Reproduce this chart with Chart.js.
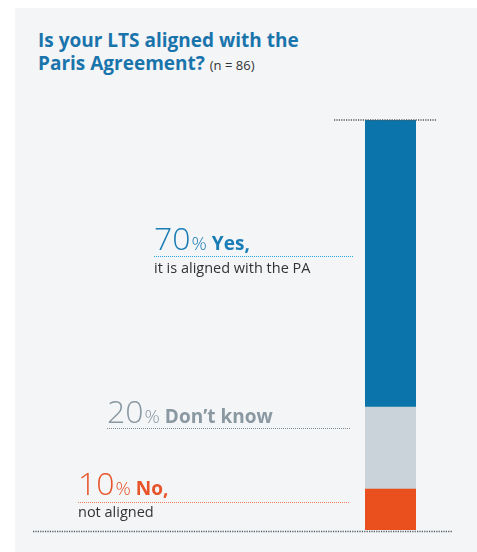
<!DOCTYPE html>
<html>
<head>
<meta charset="utf-8">
<script src="https://cdn.jsdelivr.net/npm/chart.js@4"></script>
<style>
  body { margin: 0; background: #fff; width: 477px; height: 552px; overflow: hidden; position: relative; }
  #panel { position: absolute; left: 15px; top: 8px; right: 0; bottom: 0; background: #f4f5f7; }
  #title { position: absolute; left: 38px; top: 29px; font-family: "Open Sans", sans-serif; font-weight: 700;
           font-size: 19px; line-height: 23px; color: #1a74ac; }
  #title small { font-weight: 400; font-size: 13px; color: #333; }
  #lts_chart { position: absolute; left: 0; top: 0; }
</style>
</head>
<body>
<div id="panel"></div>
<div id="title">Is your LTS aligned with the<br>Paris Agreement? <small>(n = 86)</small></div>
<canvas id="lts_chart" width="477" height="552"></canvas>
<script>
// stacked from the bottom up
const categories = ['LTS aligned with the Paris Agreement'];
const answers = ['No,', 'Don\u2019t know', 'Yes,'];
const answerNotes = ['not aligned', '', 'it is aligned with the PA'];
const shares = [10, 20, 70];

const barColours = ['#e9501e', '#c9d3d9', '#0b74ab'];
const textColours = ['#e8542a', '#8a98a2', '#1a7db5'];
const lineColours = ['#f07a5a', '#7f8c95', '#2aa6df'];
// where each answer's label sits (x, text baseline, underline y, underline end, note baseline)
const labelSpots = [
  {x: 78, base: 495, line: 502, end: 350, note: 517},
  {x: 107, base: 423, line: 428, end: 351, note: 0},
  {x: 154, base: 250, line: 256, end: 353, note: 273}
];

const labelPlugin = {
  id: 'labelPlugin',
  afterDraw(chart) {
    const ctx = chart.ctx;
    const y = chart.scales.y;
    ctx.save();

    // dotted lines at top (100%) and bottom (0%)
    ctx.setLineDash([1.2, 1.2]);
    ctx.lineWidth = 1.6;
    ctx.strokeStyle = '#4d5860';
    ctx.beginPath();
    ctx.moveTo(334, y.getPixelForValue(100));
    ctx.lineTo(436, y.getPixelForValue(100));
    ctx.moveTo(33, y.getPixelForValue(0) + 1.5);
    ctx.lineTo(452, y.getPixelForValue(0) + 1.5);
    ctx.stroke();

    answers.forEach((answer, i) => {
      const spot = labelSpots[i];
      let x = spot.x;
      ctx.textBaseline = 'alphabetic';
      ctx.fillStyle = textColours[i];
      ctx.font = '300 32px "Open Sans"';
      ctx.fillText(String(shares[i]), x, spot.base);
      x += ctx.measureText(String(shares[i])).width + 1;
      ctx.font = '300 19px "Open Sans"';
      ctx.fillText('%', x, spot.base);
      x += ctx.measureText('%').width + 5;
      ctx.font = '700 19px "Open Sans"';
      ctx.fillText(answer, x, spot.base);

      ctx.setLineDash([1, 1]);
      ctx.lineWidth = 1;
      ctx.strokeStyle = lineColours[i];
      ctx.beginPath();
      ctx.moveTo(spot.x, spot.line + 0.5);
      ctx.lineTo(spot.end, spot.line + 0.5);
      ctx.stroke();

      if (answerNotes[i]) {
        ctx.fillStyle = '#333333';
        ctx.font = '400 14.5px "Open Sans"';
        ctx.fillText(answerNotes[i], spot.x, spot.note);
      }
    });
    ctx.restore();
  }
};

new Chart(document.getElementById('lts_chart'), {
  type: 'bar',
  data: {
    labels: categories,
    datasets: answers.map((answer, i) => ({
      label: answer,
      data: [shares[i]],
      backgroundColor: barColours[i],
      borderWidth: 0,
      barPercentage: 1,
      categoryPercentage: 1
    }))
  },
  options: {
    responsive: false,
    animation: false,
    layout: { padding: { left: 365, right: 61, top: 120, bottom: 22 } },
    plugins: { legend: { display: false }, tooltip: { enabled: false }, title: { display: false } },
    scales: {
      x: { stacked: true, display: false },
      y: { stacked: true, display: false, min: 0, max: 100 }
    }
  },
  plugins: [labelPlugin]
});
</script>
</body>
</html>
